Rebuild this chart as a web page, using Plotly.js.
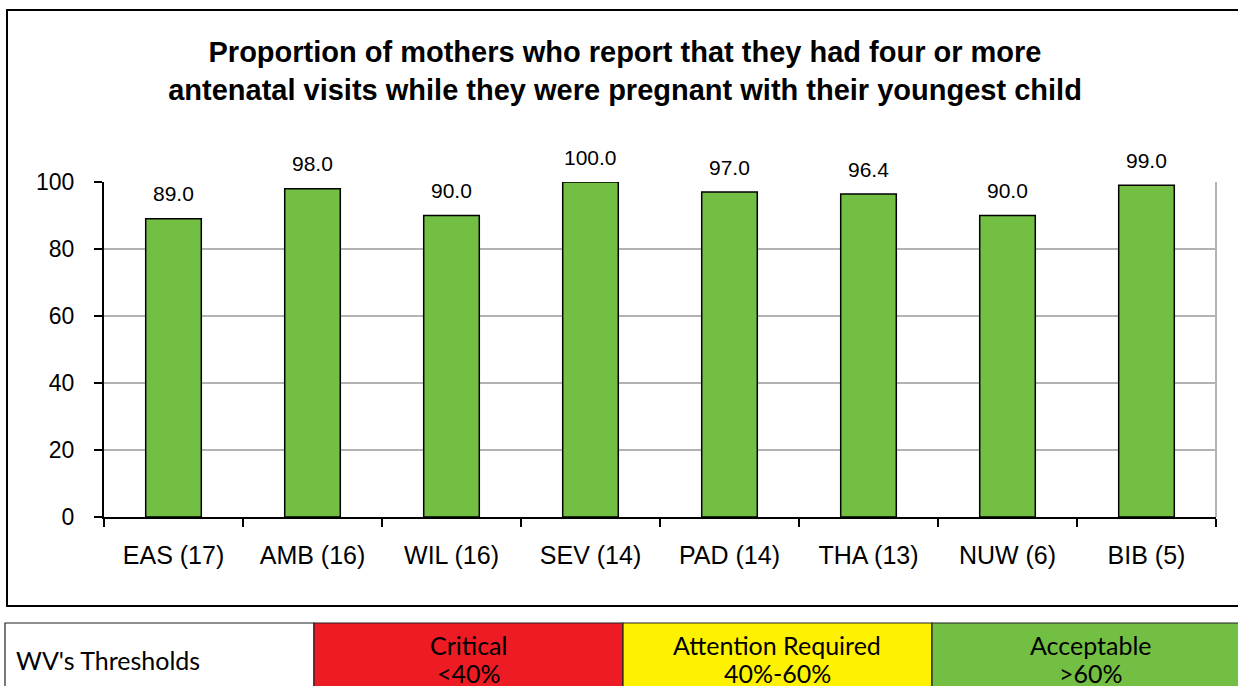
<!DOCTYPE html>
<html>
<head>
<meta charset="utf-8">
<script src="https://cdn.plot.ly/plotly-3.0.1.min.js"></script>
<style>html,body{margin:0;padding:0;background:#fff;}#chart{width:1238px;height:686px;}</style>
</head>
<body>
<div id="chart"></div>
<script>
// ---- data ----
const categories = ["EAS (17)", "AMB (16)", "WIL (16)", "SEV (14)", "PAD (14)", "THA (13)", "NUW (6)", "BIB (5)"];
const values = [89.0, 98.0, 90.0, 100.0, 97.0, 96.4, 90.0, 99.0];
const valueLabels = ["89.0", "98.0", "90.0", "100.0", "97.0", "96.4", "90.0", "99.0"];
const yTicks = [0, 20, 40, 60, 80, 100];
const chartTitle = "Proportion of mothers who report that they had four or more<br>antenatal visits while they were pregnant with their youngest child";
const thresholdHeader = "WV's Thresholds";
const thresholdNames = ["Critical", "Attention Required", "Acceptable"];
const thresholdRanges = ["<40%", "40%-60%", ">60%"];
const thresholdColors = ["#ED1C24", "#FFF200", "#72BF44"];

// ---- layout helpers (pixel -> paper fraction) ----
const W = 1238, H = 686;
const px = x => x / W;
const py = y => 1 - y / H;

const barGreen = "#72BF44";

const trace = {
  type: "bar",
  x: categories,
  y: values,
  width: 0.4,
  marker: {color: barGreen, line: {color: "#000", width: 1.5}},
  hoverinfo: "x+y"
};

const annotations = categories.map((c, i) => ({
  x: c, y: values[i], xref: "x", yref: "y",
  text: valueLabels[i], showarrow: false, yshift: 25,
  font: {family: "Liberation Sans, Arial, sans-serif", size: 21, color: "#000"}
}));

const shapes = [];
// outer chart frame
shapes.push({type: "rect", xref: "paper", yref: "paper",
  x0: px(7), x1: px(1250), y0: py(606), y1: py(10),
  line: {color: "#000", width: 2}, fillcolor: "rgba(0,0,0,0)", layer: "below"});
// right plot border (grey)
shapes.push({type: "line", xref: "x domain", yref: "y domain",
  x0: 1, x1: 1, y0: 0, y1: 1, line: {color: "#b3b3b3", width: 2}});

// threshold table
const cellEdges = [5, 314, 623, 932, 1250];
const cellFills = ["#ffffff"].concat(thresholdColors);
for (let i = 0; i < 4; i++) {
  shapes.push({type: "rect", xref: "paper", yref: "paper",
    x0: px(cellEdges[i]), x1: px(cellEdges[i + 1]), y0: py(700), y1: py(623),
    line: {color: "#222", width: 1.2}, fillcolor: cellFills[i], layer: "below"});
}
const tableFont = {family: "Lato, 'Open Sans', sans-serif", size: 25, color: "#000"};
annotations.push({xref: "paper", yref: "paper", x: px(14), y: py(660),
  xanchor: "left", yanchor: "middle", showarrow: false, text: thresholdHeader, font: tableFont});
for (let i = 0; i < 3; i++) {
  const cx = (cellEdges[i + 1] + cellEdges[i + 2]) / 2;
  annotations.push({xref: "paper", yref: "paper", x: px(cx), y: py(645),
    xanchor: "center", yanchor: "middle", showarrow: false, text: thresholdNames[i], font: tableFont});
  annotations.push({xref: "paper", yref: "paper", x: px(cx), y: py(673),
    xanchor: "center", yanchor: "middle", showarrow: false, text: thresholdRanges[i], font: tableFont});
}

const layout = {
  width: W, height: H,
  margin: {l: 0, r: 0, t: 0, b: 0, pad: 0},
  paper_bgcolor: "#fff", plot_bgcolor: "#fff",
  showlegend: false,
  title: {
    text: chartTitle,
    x: px(625), xref: "paper", xanchor: "center",
    y: py(62), yref: "paper", yanchor: "middle",
    font: {family: "Liberation Sans, Arial, sans-serif", size: 29, color: "#000", weight: "bold"}
  },
  xaxis: {
    domain: [px(104), px(1216)],
    type: "category",
    range: [-0.5, categories.length - 0.5],
    showline: true, linecolor: "#000", linewidth: 2,
    ticks: "outside", tickson: "boundaries", ticklen: 8, tickwidth: 2, tickcolor: "#000",
    showgrid: false, zeroline: false,
    tickfont: {family: "Liberation Sans, Arial, sans-serif", size: 25, color: "#000"},
    ticklabelstandoff: 15
  },
  yaxis: {
    domain: [py(517), py(182)],
    range: [0, 100],
    tickvals: yTicks,
    ticktext: yTicks.map(String),
    showline: true, linecolor: "#000", linewidth: 2,
    ticks: "outside", ticklen: 8, tickwidth: 2, tickcolor: "#000",
    showgrid: true, gridcolor: "#b3b3b3", gridwidth: 2,
    zeroline: false,
    tickfont: {family: "Liberation Sans, Arial, sans-serif", size: 23, color: "#000"},
    ticklabelstandoff: 15
  },
  bargap: 0.6,
  shapes: shapes,
  annotations: annotations
};

Plotly.newPlot("chart", [trace], layout, {displayModeBar: false, staticPlot: true});
</script>
</body>
</html>
